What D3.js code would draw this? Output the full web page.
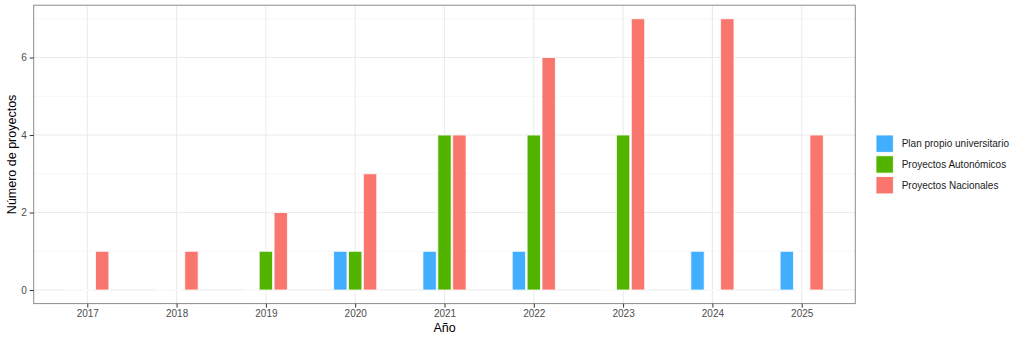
<!DOCTYPE html>
<html>
<head>
<meta charset="utf-8">
<script src="https://cdn.jsdelivr.net/npm/d3@7"></script>
<style>
  body { margin: 0; background: #fff; }
  svg { display: block; font-family: "Liberation Sans", Arial, sans-serif; }
</style>
</head>
<body>
<svg id="chart" width="1024" height="341"></svg>
<script>
// data
const years       = ['2017', '2018', '2019', '2020', '2021', '2022', '2023', '2024', '2025'];
const seriesNames = ['Plan propio universitario', 'Proyectos Autonómicos', 'Proyectos Nacionales'];
const planPropio  = [0, 0, 0, 1, 1, 1, 0, 1, 1];
const autonomicos = [0, 0, 1, 1, 4, 4, 4, 0, 0];
const nacionales  = [1, 1, 2, 3, 4, 6, 7, 7, 4];
const yTicks      = [0, 2, 4, 6];
const yMinor      = [1, 3, 5, 7];
const colors      = ['#41AEFF', '#53B400', '#F8766D'];

const seriesValues = [planPropio, autonomicos, nacionales];

const PANEL = { left: 33.7, right: 855.3, top: 5.2, bottom: 303.6 };

const svg = d3.select('#chart');

// discrete x scale, ggplot style expansion of 0.6 units on each side
const step = (PANEL.right - PANEL.left) / (years.length - 1 + 1.2);
const x = d3.scalePoint()
    .domain(years)
    .range([PANEL.left + 0.6 * step, PANEL.right - 0.6 * step]);

// dodge: 3 bars inside 0.5 units, each bar 0.15 units wide
const dodge = d3.scaleBand()
    .domain(seriesNames)
    .range([-0.25 * step, 0.25 * step]);
const barWidth = 0.15 * step;

const y = d3.scaleLinear()
    .domain([-0.35, 7.35])
    .range([PANEL.bottom, PANEL.top]);

const panel = svg.append('g');

// minor grid
panel.selectAll('line.minor')
    .data(yMinor)
    .join('line')
    .attr('x1', PANEL.left).attr('x2', PANEL.right)
    .attr('y1', d => y(d)).attr('y2', d => y(d))
    .attr('stroke', '#F2F2F2')
    .attr('stroke-width', 0.6);

// major grid
panel.selectAll('line.majory')
    .data(yTicks)
    .join('line')
    .attr('x1', PANEL.left).attr('x2', PANEL.right)
    .attr('y1', d => y(d)).attr('y2', d => y(d))
    .attr('stroke', '#EBEBEB')
    .attr('stroke-width', 1.1);

panel.selectAll('line.majorx')
    .data(years)
    .join('line')
    .attr('x1', d => x(d)).attr('x2', d => x(d))
    .attr('y1', PANEL.top).attr('y2', PANEL.bottom)
    .attr('stroke', '#EBEBEB')
    .attr('stroke-width', 1.1);

// bars (paths so that zero-height bars still draw their white outline)
const bars = [];
seriesNames.forEach((name, s) => {
    years.forEach((yr, i) => {
        bars.push({ year: yr, series: name, value: seriesValues[s][i], color: colors[s] });
    });
});

panel.selectAll('path.bar')
    .data(bars)
    .join('path')
    .attr('d', d => {
        const cx = x(d.year) + dodge(d.series) + dodge.bandwidth() / 2;
        const x0 = cx - barWidth / 2;
        const x1 = cx + barWidth / 2;
        return `M${x0},${y(0)}H${x1}V${y(d.value)}H${x0}Z`;
    })
    .attr('fill', d => d.color)
    .attr('stroke', '#fff')
    .attr('stroke-width', 0.8);

// panel border
svg.append('rect')
    .attr('x', PANEL.left).attr('y', PANEL.top)
    .attr('width', PANEL.right - PANEL.left)
    .attr('height', PANEL.bottom - PANEL.top)
    .attr('fill', 'none')
    .attr('stroke', '#8C8C8C')
    .attr('stroke-width', 1);

// axes
const xAxis = svg.append('g')
    .attr('transform', `translate(0,${PANEL.bottom})`)
    .call(d3.axisBottom(x).tickSize(4).tickPadding(2.5));

const yAxis = svg.append('g')
    .attr('transform', `translate(${PANEL.left},0)`)
    .call(d3.axisLeft(y).tickValues(yTicks).tickSize(4).tickPadding(3));

[xAxis, yAxis].forEach(ax => {
    ax.select('.domain').remove();
    ax.selectAll('.tick line').attr('stroke', '#333');
    ax.selectAll('.tick text')
        .attr('fill', '#4D4D4D')
        .style('font-size', '10px')
        .style('font-family', '"Liberation Sans", Arial, sans-serif');
});

// axis titles
svg.append('text')
    .attr('x', (PANEL.left + PANEL.right) / 2)
    .attr('y', 332)
    .attr('text-anchor', 'middle')
    .attr('font-size', 12.5)
    .text('Año');

svg.append('text')
    .attr('transform', `translate(16,${(PANEL.top + PANEL.bottom) / 2}) rotate(-90)`)
    .attr('text-anchor', 'middle')
    .attr('font-size', 12.5)
    .text('Número de proyectos');

// legend
const legend = svg.append('g')
    .attr('transform', 'translate(876,135)');

const item = legend.selectAll('g')
    .data(seriesNames)
    .join('g')
    .attr('transform', (d, i) => `translate(0,${i * 20.8})`);

item.append('rect')
    .attr('width', 17.3)
    .attr('height', 17.3)
    .attr('fill', (d, i) => colors[i])
    .attr('stroke', '#fff')
    .attr('stroke-width', 0.8);

item.append('text')
    .attr('x', 25.7)
    .attr('y', 8.7)
    .attr('dy', '0.35em')
    .attr('font-size', 10)
    .attr('fill', '#1A1A1A')
    .text(d => d);
</script>
</body>
</html>
